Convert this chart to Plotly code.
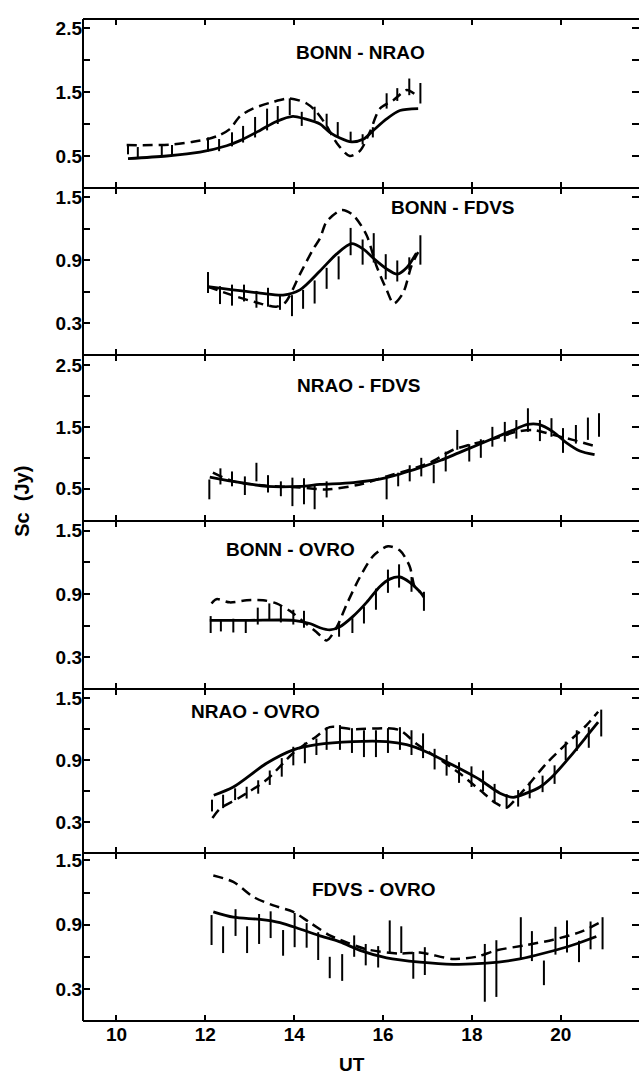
import plotly.graph_objects as go
from plotly.subplots import make_subplots

# ---------------- data ----------------
panel_titles = ["BONN - NRAO", "BONN - FDVS", "NRAO - FDVS", "BONN - OVRO", "NRAO - OVRO", "FDVS - OVRO"]

# Panel 1: BONN - NRAO
p1_solid_x = [10.26, 11.13, 11.88, 12.48, 12.78, 13.23, 13.6, 13.97, 14.24, 14.58, 14.8, 15.03, 15.29, 15.55, 15.78, 16.08, 16.38, 16.79]
p1_solid_y = [0.46, 0.50, 0.56, 0.66, 0.74, 0.90, 1.04, 1.12, 1.08, 1.00, 0.87, 0.78, 0.72, 0.76, 0.90, 1.08, 1.21, 1.24]
p1_dash_x = [10.23, 10.8, 11.27, 11.7, 12.03, 12.3, 12.55, 12.78, 13.07, 13.5, 13.9, 14.28, 14.5, 14.73, 14.95, 15.25, 15.48, 15.7, 15.93, 16.23, 16.53, 16.71]
p1_dash_y = [0.67, 0.67, 0.68, 0.72, 0.76, 0.82, 0.92, 1.12, 1.24, 1.34, 1.40, 1.32, 1.19, 0.97, 0.71, 0.50, 0.58, 0.87, 1.24, 1.37, 1.53, 1.47]
p1_bar_x = [10.26, 10.48, 11.02, 11.25, 12.06, 12.31, 12.6, 12.85, 13.12, 13.39, 13.63, 13.9, 14.17, 14.46, 14.73, 14.98, 15.27, 15.54, 15.77, 16.08, 16.32, 16.59, 16.84]
p1_bar_y = [0.60, 0.56, 0.59, 0.59, 0.68, 0.67, 0.76, 0.84, 0.95, 1.07, 1.14, 1.27, 1.08, 1.16, 1.06, 0.92, 0.80, 0.76, 0.87, 1.36, 1.46, 1.58, 1.48]
p1_bar_e = [0.074, 0.08, 0.087, 0.08, 0.11, 0.095, 0.11, 0.13, 0.16, 0.17, 0.14, 0.13, 0.11, 0.11, 0.10, 0.11, 0.08, 0.08, 0.08, 0.12, 0.10, 0.13, 0.16]

# Panel 2: BONN - FDVS
p2_solid_x = [12.06, 12.62, 13.23, 13.75, 14.13, 14.58, 14.95, 15.29, 15.55, 15.81, 16.08, 16.32, 16.53, 16.75]
p2_solid_y = [0.65, 0.62, 0.59, 0.57, 0.62, 0.80, 0.96, 1.06, 1.01, 0.91, 0.82, 0.77, 0.83, 0.97]
p2_dash_x = [12.06, 12.6, 13.15, 13.6, 13.8, 14.13, 14.43, 14.58, 14.73, 15.07, 15.33, 15.63, 15.85, 16.08, 16.24, 16.45, 16.64, 16.79]
p2_dash_y = [0.65, 0.57, 0.50, 0.46, 0.50, 0.77, 1.01, 1.11, 1.27, 1.38, 1.33, 1.14, 0.85, 0.62, 0.49, 0.59, 0.85, 0.98]
p2_bar_x = [12.06, 12.33, 12.6, 12.87, 13.15, 13.41, 13.68, 13.95, 14.2, 14.46, 14.73, 15.0, 15.27, 15.54, 15.79, 16.06, 16.32, 16.59, 16.84]
p2_bar_y = [0.69, 0.57, 0.57, 0.59, 0.53, 0.55, 0.50, 0.47, 0.53, 0.60, 0.73, 0.83, 1.08, 0.98, 1.02, 0.84, 0.80, 0.87, 1.00]
p2_bar_e = [0.10, 0.085, 0.10, 0.08, 0.08, 0.09, 0.07, 0.10, 0.09, 0.11, 0.10, 0.11, 0.13, 0.12, 0.14, 0.12, 0.10, 0.06, 0.14]

# Panel 3: NRAO - FDVS
p3_solid_x = [12.1, 12.63, 13.38, 14.13, 14.58, 15.33, 16.08, 16.83, 17.3, 17.7, 18.1, 18.5, 18.9, 19.25, 19.5, 19.83, 20.13, 20.43, 20.76]
p3_solid_y = [0.69, 0.62, 0.54, 0.54, 0.57, 0.60, 0.68, 0.84, 0.96, 1.08, 1.20, 1.32, 1.44, 1.54, 1.54, 1.42, 1.24, 1.11, 1.05]
p3_dash_x = [12.17, 12.63, 13.38, 14.13, 14.73, 15.48, 16.08, 16.6, 17.05, 17.58, 17.95, 18.55, 19.0, 19.38, 19.83, 20.27, 20.72]
p3_dash_y = [0.76, 0.62, 0.55, 0.52, 0.49, 0.57, 0.70, 0.81, 0.92, 1.13, 1.21, 1.32, 1.42, 1.45, 1.37, 1.29, 1.20]
p3_bar_x = [12.09, 12.34, 12.6, 12.89, 13.15, 13.41, 13.7, 13.96, 14.22, 14.46, 14.73, 16.08, 16.34, 16.6, 16.86, 17.14, 17.41, 17.67, 17.94, 18.2, 18.46, 18.74, 19.0, 19.26, 19.53, 19.79, 20.05, 20.34, 20.61, 20.86]
p3_bar_y = [0.49, 0.70, 0.66, 0.55, 0.77, 0.58, 0.50, 0.45, 0.46, 0.37, 0.49, 0.50, 0.65, 0.75, 0.85, 0.74, 0.94, 1.29, 1.08, 1.15, 1.34, 1.42, 1.46, 1.61, 1.44, 1.49, 1.28, 1.38, 1.47, 1.53]
p3_bar_e = [0.16, 0.13, 0.12, 0.15, 0.15, 0.14, 0.12, 0.23, 0.21, 0.20, 0.13, 0.17, 0.11, 0.13, 0.15, 0.15, 0.16, 0.16, 0.14, 0.15, 0.16, 0.16, 0.15, 0.19, 0.17, 0.15, 0.20, 0.15, 0.18, 0.19]

# Panel 4: BONN - OVRO
p4_solid_x = [12.1, 13.0, 13.98, 14.35, 14.58, 14.8, 15.03, 15.33, 15.63, 15.93, 16.15, 16.38, 16.6, 16.83, 16.92]
p4_solid_y = [0.65, 0.65, 0.65, 0.62, 0.58, 0.56, 0.59, 0.69, 0.82, 0.97, 1.04, 1.06, 1.01, 0.92, 0.87]
p4_dash_x = [12.14, 12.25, 12.55, 12.93, 13.3, 13.6, 13.9, 14.2, 14.5, 14.73, 14.95, 15.18, 15.48, 15.78, 16.11, 16.38, 16.6, 16.71, 16.83]
p4_dash_y = [0.81, 0.85, 0.82, 0.84, 0.84, 0.81, 0.74, 0.64, 0.54, 0.46, 0.58, 0.80, 1.06, 1.26, 1.35, 1.31, 1.16, 0.97, 0.92]
p4_bar_x = [12.12, 12.35, 12.63, 12.91, 13.18, 13.44, 13.7, 13.98, 14.22, 15.01, 15.31, 15.57, 15.84, 16.11, 16.36, 16.64, 16.92]
p4_bar_y = [0.61, 0.60, 0.60, 0.59, 0.69, 0.73, 0.71, 0.68, 0.66, 0.56, 0.60, 0.70, 0.85, 1.02, 1.07, 0.99, 0.83]
p4_bar_e = [0.08, 0.055, 0.065, 0.06, 0.08, 0.08, 0.08, 0.07, 0.08, 0.065, 0.07, 0.08, 0.10, 0.11, 0.11, 0.07, 0.09]

# Panel 5: NRAO - OVRO
p5_solid_x = [12.19, 12.63, 13.38, 13.98, 14.5, 15.33, 16.08, 16.53, 16.98, 17.58, 18.18, 18.63, 18.93, 19.23, 19.53, 19.83, 20.2, 20.58, 20.84]
p5_solid_y = [0.56, 0.64, 0.87, 1.00, 1.05, 1.08, 1.08, 1.05, 0.98, 0.85, 0.71, 0.58, 0.54, 0.58, 0.64, 0.75, 0.93, 1.13, 1.27]
p5_dash_x = [12.16, 12.33, 12.78, 13.38, 13.98, 14.5, 14.8, 15.33, 16.08, 16.38, 16.75, 17.2, 17.73, 18.18, 18.55, 18.78, 19.0, 19.23, 19.68, 20.13, 20.58, 20.84]
p5_dash_y = [0.34, 0.43, 0.54, 0.71, 0.97, 1.13, 1.22, 1.20, 1.21, 1.19, 1.06, 0.93, 0.77, 0.61, 0.48, 0.44, 0.53, 0.64, 0.87, 1.06, 1.24, 1.37]
p5_bar_x = [12.15, 12.4, 12.67, 12.93, 13.19, 13.45, 13.72, 13.98, 14.24, 14.5, 14.73, 15.03, 15.3, 15.57, 15.84, 16.11, 16.38, 16.64, 16.9, 17.16, 17.43, 17.71, 17.99, 18.25, 18.51, 18.78, 19.04, 19.3, 19.59, 19.86, 20.11, 20.36, 20.63, 20.91]
p5_bar_y = [0.46, 0.50, 0.57, 0.585, 0.64, 0.73, 0.83, 0.94, 0.97, 1.03, 1.11, 1.12, 1.09, 1.06, 1.06, 1.09, 1.11, 1.07, 1.04, 0.91, 0.85, 0.78, 0.74, 0.70, 0.58, 0.50, 0.53, 0.61, 0.67, 0.76, 0.99, 1.09, 1.12, 1.26]
p5_bar_e = [0.057, 0.065, 0.057, 0.057, 0.065, 0.07, 0.09, 0.09, 0.10, 0.08, 0.11, 0.12, 0.12, 0.13, 0.13, 0.12, 0.11, 0.12, 0.12, 0.10, 0.10, 0.10, 0.10, 0.10, 0.09, 0.07, 0.08, 0.08, 0.08, 0.09, 0.09, 0.10, 0.10, 0.13]

# Panel 6: FDVS - OVRO
p6_solid_x = [12.18, 12.63, 13.23, 13.68, 14.13, 14.55, 15.03, 15.48, 16.08, 16.83, 17.58, 18.33, 19.08, 19.68, 20.27, 20.8]
p6_solid_y = [1.02, 0.97, 0.95, 0.92, 0.86, 0.80, 0.74, 0.66, 0.59, 0.55, 0.53, 0.54, 0.58, 0.64, 0.71, 0.79]
p6_dash_x = [12.18, 12.63, 13.08, 13.53, 13.98, 14.35, 14.8, 15.03, 15.63, 16.38, 16.83, 17.58, 18.1, 18.55, 19.23, 19.83, 20.43, 20.88]
p6_dash_y = [1.36, 1.30, 1.16, 1.08, 1.02, 0.92, 0.80, 0.76, 0.67, 0.63, 0.64, 0.58, 0.60, 0.66, 0.71, 0.76, 0.83, 0.92]
p6_bar_x = [12.14, 12.4, 12.68, 12.94, 13.21, 13.47, 13.75, 14.01, 14.28, 14.54, 14.8, 15.08, 15.35, 15.61, 15.89, 16.15, 16.41, 16.68, 16.94, 18.29, 18.55, 19.1, 19.35, 19.62, 19.88, 20.14, 20.41, 20.67, 20.94]
p6_bar_y = [0.85, 0.76, 0.92, 0.76, 0.86, 0.90, 0.73, 0.85, 0.80, 0.70, 0.50, 0.50, 0.70, 0.62, 0.60, 0.79, 0.76, 0.52, 0.56, 0.45, 0.49, 0.77, 0.70, 0.45, 0.75, 0.79, 0.65, 0.80, 0.82]
p6_bar_e = [0.14, 0.125, 0.125, 0.125, 0.14, 0.125, 0.12, 0.16, 0.115, 0.13, 0.10, 0.125, 0.10, 0.10, 0.10, 0.15, 0.125, 0.125, 0.13, 0.27, 0.265, 0.20, 0.14, 0.115, 0.13, 0.15, 0.10, 0.13, 0.15]

# y-axis tick values / labels per panel
y_tickvals = [
    [0.5, 1.0, 1.5, 2.0, 2.5],
    [0.3, 0.6, 0.9, 1.2, 1.5],
    [0.5, 1.0, 1.5, 2.0, 2.5],
    [0.3, 0.6, 0.9, 1.2, 1.5],
    [0.3, 0.6, 0.9, 1.2, 1.5],
    [0.3, 0.6, 0.9, 1.2, 1.5],
]
y_ticktext = [
    ["0.5", "", "1.5", "", "2.5"],
    ["0.3", "", "0.9", "", "1.5"],
    ["0.5", "", "1.5", "", "2.5"],
    ["0.3", "", "0.9", "", "1.5"],
    ["0.3", "", "0.9", "", "1.5"],
    ["0.3", "", "0.9", "", "1.5"],
]
x_tickvals = [10, 12, 14, 16, 18, 20]
x_ticktext = ["10", "12", "14", "16", "18", "20"]
x_title = "UT"
y_title = "Sc\u00a0\u00a0(Jy)"

panels = [
    (p1_solid_x, p1_solid_y, p1_dash_x, p1_dash_y, p1_bar_x, p1_bar_y, p1_bar_e),
    (p2_solid_x, p2_solid_y, p2_dash_x, p2_dash_y, p2_bar_x, p2_bar_y, p2_bar_e),
    (p3_solid_x, p3_solid_y, p3_dash_x, p3_dash_y, p3_bar_x, p3_bar_y, p3_bar_e),
    (p4_solid_x, p4_solid_y, p4_dash_x, p4_dash_y, p4_bar_x, p4_bar_y, p4_bar_e),
    (p5_solid_x, p5_solid_y, p5_dash_x, p5_dash_y, p5_bar_x, p5_bar_y, p5_bar_e),
    (p6_solid_x, p6_solid_y, p6_dash_x, p6_dash_y, p6_bar_x, p6_bar_y, p6_bar_e),
]

# ---------------- layout / style ----------------
y_ranges = [[0, 2.64], [0, 1.59], [-0.02, 2.66], [0, 1.59], [0, 1.59], [0, 1.57]]
x_range = [9.247, 21.76]
title_pos = [(15.5, 2.12), (17.57, 1.40), (15.45, 2.17), (13.92, 1.32), (13.14, 1.37), (15.79, 1.23)]

FONT = "Liberation Sans"
INK = "black"

fig = make_subplots(rows=6, cols=1, shared_xaxes=True, vertical_spacing=0,
                    row_heights=[169, 167, 166, 168, 164, 168])

for i, (sx, sy, dx, dy, bx, by, be) in enumerate(panels):
    r = i + 1
    fig.add_trace(go.Scatter(x=bx, y=by, mode="markers",
                             marker=dict(size=1, color="rgba(0,0,0,0)"),
                             error_y=dict(type="data", array=be, symmetric=True,
                                          width=0, thickness=2, color=INK),
                             showlegend=False, hoverinfo="skip"), row=r, col=1)
    fig.add_trace(go.Scatter(x=dx, y=dy, mode="lines",
                             line=dict(color=INK, width=2.5, dash="10px,6px", shape="spline", smoothing=0.8),
                             showlegend=False, hoverinfo="skip"), row=r, col=1)
    fig.add_trace(go.Scatter(x=sx, y=sy, mode="lines",
                             line=dict(color=INK, width=2.8, shape="spline", smoothing=0.8),
                             showlegend=False, hoverinfo="skip"), row=r, col=1)
    fig.update_yaxes(range=y_ranges[i], tickvals=y_tickvals[i], ticktext=y_ticktext[i],
                     ticks="inside", ticklen=7, tickwidth=2, tickcolor=INK,
                     showline=False, mirror="ticks", showgrid=False, zeroline=False,
                     tickfont=dict(family=FONT, size=19, color=INK, weight="bold"),
                     row=r, col=1)
    fig.update_xaxes(range=x_range, tickvals=x_tickvals, ticktext=x_ticktext,
                     ticks="inside", ticklen=6, tickwidth=2, tickcolor=INK,
                     showline=False, mirror="ticks",
                     showgrid=False, zeroline=False, showticklabels=(r == 6),
                     tickfont=dict(family=FONT, size=19, color=INK, weight="bold"),
                     row=r, col=1)
    xref = "x" if r == 1 else f"x{r}"
    yref = "y" if r == 1 else f"y{r}"
    fig.add_annotation(x=title_pos[i][0], y=title_pos[i][1], xref=xref, yref=yref,
                       text=panel_titles[i], showarrow=False,
                       font=dict(family=FONT, size=19, color=INK, weight="bold"))

# frame lines: left edge and every panel boundary
fig.add_shape(type="line", xref="paper", yref="paper", x0=0, x1=0, y0=0, y1=1,
              line=dict(color=INK, width=2))
bounds = set()
for r in range(1, 7):
    ax = fig.layout["yaxis" if r == 1 else f"yaxis{r}"]
    bounds.update(ax.domain)
for b in sorted(bounds):
    fig.add_shape(type="line", xref="paper", yref="paper", x0=0, x1=1, y0=b, y1=b,
                  line=dict(color=INK, width=2))

fig.add_annotation(x=0.484, y=-0.0435, xref="paper", yref="paper", text=x_title,
                   xanchor="center", yanchor="middle",
                   showarrow=False, font=dict(family=FONT, size=19, color=INK, weight="bold"))
fig.add_annotation(x=-0.11, y=0.519, xref="paper", yref="paper", text=y_title,
                   xanchor="center", yanchor="middle",
                   textangle=-90, showarrow=False,
                   font=dict(family=FONT, size=20, color=INK, weight="bold"))

fig.update_layout(width=639, height=1078, autosize=False,
                  margin=dict(l=83, r=0, t=19, b=57),
                  paper_bgcolor="white", plot_bgcolor="white", showlegend=False)

fig.write_html("out.html", config={"displayModeBar": False},
               post_script="document.body.style.margin='0px';document.body.style.overflow='hidden';")
